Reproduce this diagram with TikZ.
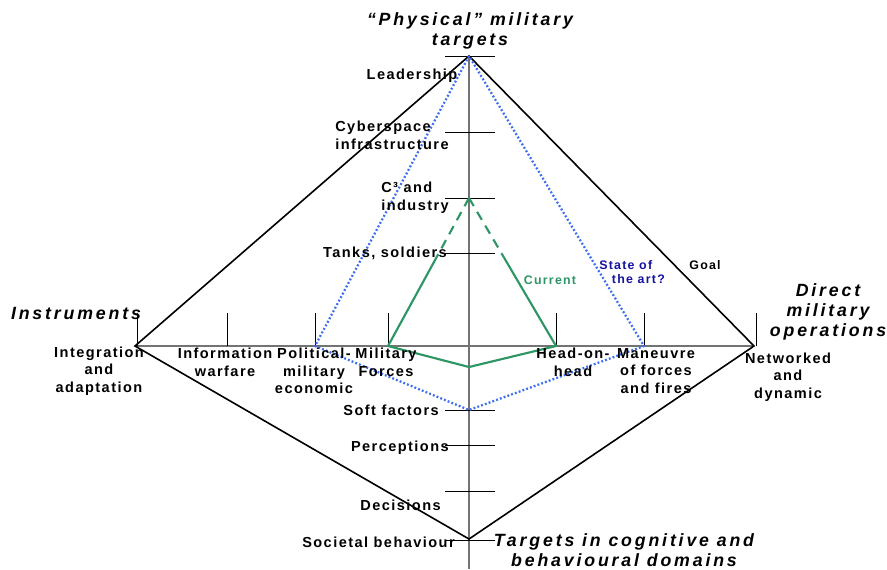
\documentclass[tikz,border=0pt]{standalone}
\usepackage{fontspec}
\usepackage{xcolor}
\usepackage{tikz}
\usetikzlibrary{calc}
\setmainfont{Liberation Sans}
\newfontfamily\labelfont{Liberation Sans}[LetterSpace=10]
\newfontfamily\headfont{Liberation Sans}[LetterSpace=16]
\definecolor{currentgreen}{RGB}{46,150,100}
\definecolor{artblue}{RGB}{60,110,240}
\definecolor{artnavy}{RGB}{20,20,160}

\begin{document}
\begin{tikzpicture}[x=0.75pt, y=-0.75pt,
axis/.style={draw=gray!90!black, line width=1pt},
tick/.style={draw=black, line width=0.7pt},
goalline/.style={draw=black, line width=1.2pt},
current/.style={draw=currentgreen, line width=1.6pt},
stateart/.style={draw=artblue, line width=1.7pt, dash pattern=on 1.4pt off 1.6pt},
lbl/.style={font=\labelfont\bfseries\fontsize{10.9}{13.2}\selectfont, inner sep=0pt, align=center},
heading/.style={font=\headfont\bfseries\itshape\fontsize{13.3}{15.2}\selectfont, inner sep=0pt, align=center},
note/.style={font=\labelfont\bfseries\fontsize{9.3}{10.6}\selectfont, inner sep=0pt, align=center}
]
\useasboundingbox (0,0) rectangle (887,569);

% diamond corners
\coordinate (top) at (469,56);
\coordinate (right) at (754,346);
\coordinate (bottom) at (469,539);
\coordinate (left) at (135,346);
\coordinate (axisend) at (469,569);

% points on the vertical axis
\coordinate (v1) at (469,56);
\coordinate (v2) at (469,132);
\coordinate (v3) at (469,198);
\coordinate (v4) at (469,253);
\coordinate (v5) at (469,410);
\coordinate (v6) at (469,445);
\coordinate (v7) at (469,491);
\coordinate (v8) at (469,540);

% points on the horizontal axis
\coordinate (h1) at (137,346);
\coordinate (h2) at (227,346);
\coordinate (h3) at (315,346);
\coordinate (h4) at (388,346);
\coordinate (h5) at (556,346);
\coordinate (h6) at (644,346);
\coordinate (h7) at (756,346);
\coordinate (cbottom) at (469,367);

% axes
\draw[axis] (top) -- (axisend);
\draw[axis] (left) -- (right);

% ticks
\draw[tick] (v1) ++(-24,0) -- ++(50,0);
\draw[tick] (v2) ++(-24,0) -- ++(50,0);
\draw[tick] (v3) ++(-24,0) -- ++(50,0);
\draw[tick] (v4) ++(-24,0) -- ++(50,0);
\draw[tick] (v5) ++(-24,0) -- ++(50,0);
\draw[tick] (v6) ++(-24,0) -- ++(50,0);
\draw[tick] (v7) ++(-24,0) -- ++(50,0);
\draw[tick] (v8) ++(-24,0) -- ++(50,0);
\draw[tick] (h1) -- ++(0,-33);
\draw[tick] (h2) -- ++(0,-33);
\draw[tick] (h3) -- ++(0,-33);
\draw[tick] (h4) -- ++(0,-33);
\draw[tick] (h5) -- ++(0,-33);
\draw[tick] (h6) -- ++(0,-33);
\draw[tick] (h7) -- ++(0,-33);

% goal
\draw[goalline] (top) -- (right) -- (bottom) -- (left) -- cycle;

% state of the art
\draw[stateart] (top) -- (h3) -- (v5) -- (h6) -- cycle;

% current
\draw[current, dash pattern=on 7pt off 5pt] (v3) -- ($(v3)!0.4!(h4)$);
\draw[current, dash pattern=on 7pt off 5pt] (v3) -- ($(v3)!0.4!(h5)$);
\draw[current] ($(v3)!0.4!(h4)$) -- (h4) -- (cbottom) -- (h5) -- ($(v3)!0.4!(h5)$);

% headings
\node[heading] (physical) at (470,31) {“Physical” military\\targets};
\node[heading] (instruments) at (76,313) {Instruments};
\node[heading] (direct) at (828,312) {Direct\\military\\operations};
\node[heading] (cognitive) at (624,550) {Targets in cognitive and\\behavioural domains};

% labels on the vertical axis
\node[lbl] (leadership) at (412,76) {Leadership};
\node[lbl, anchor=west, align=left] (cyber) at (335,135) {Cyberspace\\infrastructure};
\node[lbl, anchor=west, align=left] (c3) at (381,198) {C³ and\\industry};
\node[lbl, anchor=east] (tanks) at (447,253) {Tanks, soldiers};
\node[lbl, anchor=east] (soft) at (439,410) {Soft factors};
\node[lbl, anchor=east] (perceptions) at (449,448) {Perceptions};
\node[lbl, anchor=east] (decisions) at (441,505) {Decisions};
\node[lbl, anchor=east] (societal) at (455,542) {Societal behaviour};

% labels on the horizontal axis
\node[lbl] (integration) at (99,371) {Integration\\and\\adaptation};
\node[lbl] (information) at (225,362) {Information\\warfare};
\node[lbl] (political) at (314,371) {Political-\\military\\economic};
\node[lbl] (forces) at (386,362) {Military\\Forces};
\node[lbl] (headon) at (573,362) {Head-on-\\head};
\node[lbl] (maneuvre) at (656,371) {Maneuvre\\of forces\\and fires};
\node[lbl] (networked) at (788,377) {Networked\\and\\dynamic};

% curve names
\node[note, text=currentgreen] (currentlbl) at (550,280) {Current};
\node[note, text=artnavy, anchor=west, align=left] (artlbl) at (599,272) {State of\\\hspace*{9.5pt}the art?};
\node[note] (goallbl) at (705,265) {Goal};
\end{tikzpicture}
\end{document}
